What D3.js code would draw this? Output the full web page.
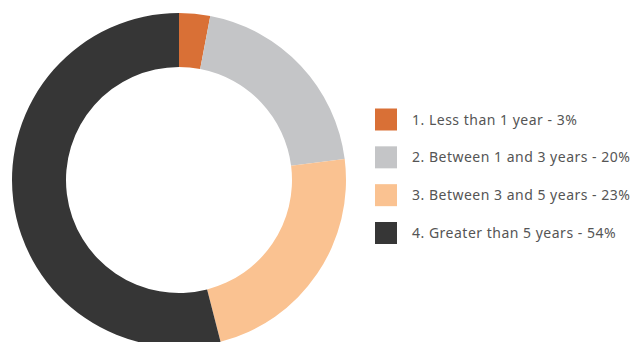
<!DOCTYPE html>
<html>
<head>
<meta charset="utf-8">
<script src="https://cdn.jsdelivr.net/npm/d3@7"></script>
<style>
  body { margin: 0; background: #fff; }
  svg { display: block; }
</style>
</head>
<body>
<svg id="chart"></svg>
<script>
const categories = ['1. Less than 1 year', '2. Between 1 and 3 years', '3. Between 3 and 5 years', '4. Greater than 5 years'];
const values = [3, 20, 23, 54];
const colors = ['#d97036', '#c4c5c7', '#fac291', '#363636'];

const width = 634, height = 342;
const cx = 179, cy = 180;
const outerR = 167, innerR = 113;

const svg = d3.select('#chart')
    .attr('width', width)
    .attr('height', height);

const data = categories.map((c, i) => ({ label: c, value: values[i], color: colors[i] }));

const pie = d3.pie()
    .value(d => d.value)
    .sort(null);

const arc = d3.arc()
    .innerRadius(innerR)
    .outerRadius(outerR);

const donut = svg.append('g')
    .attr('transform', `translate(${cx},${cy})`);

donut.selectAll('path')
    .data(pie(data))
    .join('path')
    .attr('d', arc)
    .attr('fill', d => d.data.color);

// legend
const legendY = d3.scalePoint()
    .domain(categories)
    .range([119.5, 233])
    .padding(0);

const legend = svg.append('g')
    .attr('transform', 'translate(375,0)');

const rows = legend.selectAll('g')
    .data(data)
    .join('g')
    .attr('transform', d => `translate(0,${legendY(d.label)})`);

rows.append('rect')
    .attr('x', 0)
    .attr('y', -11)
    .attr('width', 22)
    .attr('height', 22)
    .attr('fill', d => d.color);

rows.append('text')
    .attr('x', 37)
    .attr('y', 5)
    .attr('font-family', '"Noto Sans", sans-serif')
    .attr('font-size', 14)
    .attr('letter-spacing', 0.5)
    .attr('fill', '#555')
    .text(d => `${d.label} - ${d.value}%`);
</script>
</body>
</html>
